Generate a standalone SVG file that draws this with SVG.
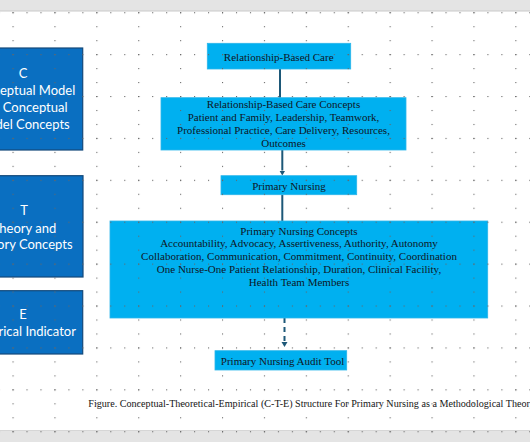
<svg xmlns="http://www.w3.org/2000/svg" width="530" height="442" viewBox="0 0 530 442">
<style>
.cte{fill:#0a6fc1;stroke:#13497a;stroke-width:1.2}
.cte-t{font-family:Lato,"Open Sans","Liberation Sans",sans-serif;font-size:13px;fill:#fff;text-anchor:middle}
.bx{fill:#00b0f0;stroke:#2bb6ea;stroke-width:0.8}
.bx-t{font-family:"Liberation Serif","Times New Roman",serif;font-size:11px;fill:#0e1626;text-anchor:middle}
.con{stroke:#1d5878;stroke-width:2;fill:none}
.cap{font-family:"Liberation Serif","Times New Roman",serif;font-size:10.12px;fill:#151515}
</style>
<defs>
<marker id="arr" markerUnits="userSpaceOnUse" markerWidth="7" markerHeight="7" refX="0" refY="3" orient="auto">
<path d="M0,0 L5,3 L0,6 z" fill="#1d5878"/>
</marker>
<pattern id="rowdots" patternUnits="userSpaceOnUse" x="12.5" y="12.2" width="13.967" height="41.9">
<rect x="0" y="0" width="1.1" height="1.1" fill="#666666"/>
</pattern>
<pattern id="coldots" patternUnits="userSpaceOnUse" x="12.5" y="12.2" width="41.9" height="13.967">
<rect x="0" y="0" width="1.1" height="1.1" fill="#666666"/>
</pattern>
</defs>
<rect x="0" y="0" width="530" height="442" fill="#ffffff"/>
<rect x="0" y="0" width="530" height="11" fill="#e4e4e4"/>
<rect x="0" y="10.5" width="530" height="1" fill="#c9c9c9"/>
<rect x="0" y="430.5" width="530" height="11.5" fill="#e4e4e4"/>
<rect x="0" y="430" width="530" height="1" fill="#d6d6d6"/>

<g id="node-c">
<rect class="cte" x="-40" y="48" width="122.7" height="102"/>
<text class="cte-t" x="23" y="78">C</text>
<text class="cte-t" x="23" y="95">Conceptual Model</text>
<text class="cte-t" x="23" y="112">and Conceptual</text>
<text class="cte-t" x="23" y="129">Model Concepts</text>
</g>
<g id="node-t">
<rect class="cte" x="-40" y="175.7" width="123" height="101.3"/>
<text class="cte-t" x="24" y="215">T</text>
<text class="cte-t" x="24" y="232.5">Theory and</text>
<text class="cte-t" x="24" y="249">Theory Concepts</text>
</g>
<g id="node-e">
<rect class="cte" x="-40" y="290.7" width="122.7" height="63.3"/>
<text class="cte-t" x="23" y="319">E</text>
<text class="cte-t" x="23" y="336">Empirical Indicator</text>
</g>

<g id="connectors">
<line class="con" x1="280" y1="69" x2="280" y2="97.7"/>
<line class="con" x1="282.3" y1="150" x2="282.3" y2="170.5" marker-end="url(#arr)"/>
<line class="con" x1="282.3" y1="194.7" x2="282.3" y2="221"/>
<line class="con" x1="284.5" y1="318" x2="284.5" y2="342" stroke-dasharray="5 4" marker-end="url(#arr)"/>
</g>

<g id="node-rbc">
<rect class="bx" x="207.3" y="43.3" width="143.4" height="25.7"/>
<text class="bx-t" x="278.7" y="60.5">Relationship-Based Care</text>
</g>
<g id="node-rbc-concepts">
<rect class="bx" x="161" y="97.7" width="245" height="52.3"/>
<text class="bx-t" x="283.5" y="108.2">Relationship-Based Care Concepts</text>
<text class="bx-t" x="283.5" y="121.4">Patient and Family, Leadership, Teamwork,</text>
<text class="bx-t" x="283.5" y="134.2">Professional Practice, Care Delivery, Resources,</text>
<text class="bx-t" x="283.5" y="147.2">Outcomes</text>
</g>
<g id="node-pn">
<rect class="bx" x="221" y="175.7" width="135.7" height="19"/>
<text class="bx-t" x="289" y="189.8">Primary Nursing</text>
</g>
<g id="node-pn-concepts">
<rect class="bx" x="110" y="221" width="377.7" height="97"/>
<text class="bx-t" x="299" y="234.5">Primary Nursing Concepts</text>
<text class="bx-t" x="299" y="247.3">Accountability, Advocacy, Assertiveness, Authority, Autonomy</text>
<text class="bx-t" x="299" y="260.3">Collaboration, Communication, Commitment, Continuity, Coordination</text>
<text class="bx-t" x="299" y="273.1">One Nurse-One Patient Relationship, Duration, Clinical Facility,</text>
<text class="bx-t" x="299" y="285.9">Health Team Members</text>
</g>
<g id="node-audit">
<rect class="bx" x="215" y="350.7" width="131.7" height="19.3"/>
<text class="bx-t" x="282.5" y="364.5">Primary Nursing Audit Tool</text>
</g>

<text class="cap" x="88.3" y="406.5">Figure. Conceptual-Theoretical-Empirical (C-T-E) Structure For Primary Nursing as a Methodological Theory</text>

<rect x="0" y="12" width="530" height="430" fill="url(#rowdots)"/>
<rect x="0" y="12" width="530" height="430" fill="url(#coldots)"/>
</svg>
